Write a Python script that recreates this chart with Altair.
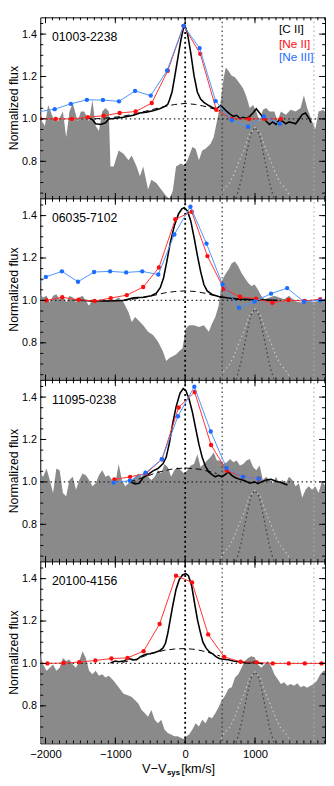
import altair as alt
import pandas as pd

XDOM = [-2075, 2003]
YLO = 0.623          # bottom of every panel
S = 0.856            # flux span of one panel (0.623 .. 1.479)
NP = 4
W = 291
H = 185.5            # pixel height of one panel

names = ["01003-2238", "06035-7102", "11095-0238", "20100-4156"]
legend_labels = ["[C II]", "[Ne II]", "[Ne III]"]

# ---------------- panel 1 : 01003-2238 ----------------
p1_gray_v = [-2094,-2052,-2009,-1963,-1892,-1822,-1751,-1704,-1657,-1610,-1540,-1493,-1446,-1376,-1329,-1282,-1235,-1188,-1141,-1094,-1070,-1024,-953,-883,-812,-765,-695,-648,-601,-531,-484,-413,-343,-272,-225,-178,-131,-61,-14,33,103,150,197,244,291,362,408,455,502,549,582,620,667,714,784,831,878,925,972,1019,1066,1113,1160,1207,1277,1324,1371,1441,1512,1582,1653,1700,1747,1817,1864,1911,1981,2028]
p1_gray_f = [1.051,0.989,0.966,1.066,1.005,0.989,1.035,0.913,1.035,1.074,0.989,1.035,1.035,0.989,1.089,0.966,0.943,1.035,1.051,1.035,0.775,0.775,0.851,0.836,0.805,0.828,0.775,0.729,0.775,0.667,0.713,0.698,0.667,0.636,0.613,0.660,0.775,0.790,0.782,0.805,0.867,0.859,0.805,0.851,0.859,0.882,0.913,0.989,1.066,1.189,1.242,1.227,1.204,1.196,1.166,1.143,1.104,1.051,1.066,1.035,0.989,1.043,1.051,1.035,1.035,0.989,1.035,1.020,1.043,1.035,1.051,1.112,1.051,0.989,0.951,1.035,1.043,1.020]
p1_cii_v = [-1399,-1329,-1282,-1211,-1141,-1094,-1024,-883,-742,-648,-554,-460,-366,-296,-249,-225,-188,-155,-108,-61,-23,0,33,80,127,174,221,268,338,408,455,502,549,596,643,690,737,784,831,878,925,972,1019,1066,1113,1160,1207,1254,1301,1347,1394,1441,1488,1535,1582,1629,1676,1723,1770,1803]
p1_cii_f = [1.008,0.997,0.977,0.974,0.982,1.0,1.002,1.008,1.017,1.028,1.032,1.038,1.048,1.058,1.069,1.089,1.127,1.189,1.281,1.373,1.431,1.437,1.403,1.311,1.204,1.127,1.094,1.078,1.063,1.051,1.048,1.063,1.051,1.035,1.023,1.012,1.017,1.002,1.008,1.002,1.012,1.028,1.048,1.028,1.008,0.989,0.974,0.986,0.974,0.997,0.989,0.977,0.986,0.982,0.977,0.997,1.020,1.028,1.005,0.982]
p1_broad_v = [-1300,-1100,-900,-700,-500,-300,-150,0,150,300,450,500]
p1_broad_f = [1.0,1.005,1.012,1.025,1.042,1.058,1.068,1.073,1.068,1.058,1.043,1.038]
p1_neii_v = [-2080,-1854,-1624,-1394,-1169,-939,-709,-479,-249,-23,216,446,671,915,1141,1371]
p1_neii_f = [1.002,1.0,1.0,1.008,1.015,1.028,1.035,1.075,1.227,1.439,1.307,1.043,1.0,1.0,1.0,1.0]
p1_neiii_v = [-2130,-1869,-1638,-1408,-1178,-948,-718,-493,-258,-23,207,437,667,901,1127,1357]
p1_neiii_f = [1.032,1.046,1.071,1.090,1.089,1.083,1.132,1.110,1.229,1.439,1.334,1.084,0.994,0.963,1.012,0.977]

# ---------------- panel 2 : 06035-7102 ----------------
p2_gray_v = [-2080,-2033,-1986,-1939,-1892,-1845,-1798,-1751,-1704,-1657,-1610,-1563,-1516,-1470,-1423,-1376,-1329,-1282,-1235,-1164,-1094,-1024,-953,-883,-812,-765,-718,-671,-601,-531,-460,-390,-319,-272,-225,-178,-131,-85,-38,-14,9,56,127,197,268,338,385,432,479,526,573,620,667,714,761,808,854,901,948,995,1042,1089,1136,1207,1277,1347,1418,1488,1559,1629,1700,1770,1840,1911,1981,2028]
p2_gray_f = [1.029,1.014,1.022,0.991,1.022,1.029,1.006,1.022,0.991,1.022,1.014,0.991,1.014,1.022,0.998,0.975,1.006,0.998,0.991,1.006,0.998,0.998,1.014,0.991,0.945,0.898,0.922,0.906,0.883,0.852,0.837,0.806,0.760,0.714,0.729,0.737,0.745,0.760,0.775,0.822,0.868,0.883,0.883,0.875,0.883,0.852,0.891,0.922,0.975,1.091,1.122,1.145,1.175,1.183,1.160,1.129,1.106,1.083,1.068,1.075,1.052,1.022,1.006,1.014,1.022,1.014,1.006,1.022,0.998,0.991,0.991,0.998,0.991,0.998,1.006,1.014]
p2_cii_v = [-1587,-1352,-1117,-883,-742,-601,-484,-413,-357,-310,-263,-216,-155,-94,-47,-14,33,80,127,174,221,268,315,385,479,620,761,901,1089,1324]
p2_cii_f = [1.003,0.997,0.997,1.0,1.012,1.015,1.022,1.034,1.060,1.106,1.183,1.268,1.352,1.409,1.432,1.437,1.422,1.375,1.298,1.214,1.137,1.075,1.045,1.028,1.018,1.011,1.006,1.005,1.003,1.0]
p2_broad_v = [-900,-700,-500,-300,-150,0,150,300,450,550]
p2_broad_f = [1.0,1.008,1.020,1.035,1.042,1.045,1.042,1.033,1.020,1.012]
p2_neii_v = [-1986,-1761,-1526,-1296,-1066,-836,-601,-376,-141,94,319,554,784,1014,1249,1479,1709,1934]
p2_neii_f = [1.0,1.015,1.003,0.997,1.011,1.025,1.063,1.155,1.383,1.418,1.209,1.055,1.017,1.008,0.989,1.002,0.997,1.006]
p2_neiii_v = [-2225,-1995,-1765,-1535,-1305,-1075,-845,-615,-385,-155,75,305,535,770,995,1230,1460,1700,1934]
p2_neiii_f = [1.042,1.111,1.137,1.088,1.134,1.137,1.132,1.137,1.122,1.311,1.442,1.268,1.075,0.966,0.995,1.032,1.058,0.994,1.0]

# ---------------- panel 3 : 11095-0238 ----------------
p3_gray_v = [-2080,-2033,-1986,-1939,-1892,-1845,-1798,-1751,-1704,-1657,-1610,-1563,-1516,-1470,-1423,-1376,-1329,-1282,-1235,-1188,-1141,-1094,-1047,-1000,-953,-906,-859,-812,-765,-718,-671,-624,-577,-531,-484,-437,-390,-343,-296,-249,-202,-155,-108,-61,-14,33,80,127,174,221,268,315,362,408,455,502,549,596,643,690,737,784,831,878,925,972,1019,1066,1113,1160,1207,1254,1301,1347,1394,1441,1488,1535,1582,1629,1676,1723,1770,1817,1864,1911,1958,2014]
p3_gray_f = [1.040,1.024,1.063,1.009,0.948,1.063,1.055,0.948,0.933,1.009,1.024,0.963,1.009,1.040,1.032,1.009,0.979,0.994,1.032,1.055,1.024,1.032,1.009,0.994,1.085,1.009,0.979,0.994,1.009,1.024,1.040,1.024,1.055,1.024,1.009,1.024,1.055,1.040,1.085,1.070,1.024,1.055,1.070,1.055,1.040,1.055,1.078,1.085,1.131,1.070,1.085,1.101,1.116,1.139,1.101,1.101,1.085,1.093,1.108,1.093,1.101,1.078,1.085,1.101,1.108,1.070,1.055,1.078,1.009,1.024,1.009,0.994,1.024,0.994,1.009,0.994,1.024,1.009,0.979,0.994,0.925,0.963,0.979,0.963,0.979,0.948,1.002,0.979]
p3_cii_v = [-789,-718,-657,-601,-531,-460,-390,-319,-272,-225,-178,-131,-75,-28,9,56,103,150,197,244,291,338,385,432,479,526,573,620,667,714,784,854,925,995,1042,1089,1160,1230,1300,1371,1465]
p3_cii_f = [1.002,0.991,0.994,1.021,1.035,1.052,1.063,1.085,1.116,1.185,1.276,1.353,1.418,1.440,1.431,1.391,1.330,1.253,1.177,1.116,1.073,1.047,1.034,1.024,1.031,1.024,1.035,1.047,1.031,1.021,1.012,1.006,0.994,1.0,0.992,1.0,1.009,1.012,1.003,0.997,0.986]
p3_broad_v = [-800,-600,-400,-200,0,200,400,450]
p3_broad_f = [1.0,1.020,1.045,1.060,1.066,1.060,1.045,1.040]
p3_neii_v = [-1014,-789,-559,-333,-94,136,371,596,831,1052]
p3_neii_f = [1.012,1.024,1.040,1.107,1.351,1.424,1.174,1.053,1.024,1.015]
p3_neiii_v = [-1024,-793,-568,-333,-103,131,366,592,826,1052]
p3_neiii_f = [0.997,1.006,1.043,1.107,1.310,1.449,1.238,1.066,1.024,1.015]

# ---------------- panel 4 : 20100-4156 ----------------
p4_gray_v = [-2080,-2033,-1986,-1939,-1892,-1845,-1798,-1751,-1704,-1657,-1610,-1563,-1516,-1470,-1423,-1376,-1329,-1282,-1235,-1188,-1141,-1094,-1024,-953,-883,-812,-765,-718,-671,-624,-577,-531,-484,-437,-390,-343,-296,-249,-202,-155,-108,-61,-14,19,56,103,150,197,244,291,338,385,432,479,526,573,620,667,714,761,808,854,901,948,995,1042,1089,1136,1183,1230,1277,1324,1371,1418,1465,1512,1559,1606,1653,1700,1747,1793,1840,1887,1934,1981,2028]
p4_gray_f = [1.042,0.995,0.965,0.980,0.995,0.965,0.980,1.026,1.011,1.018,0.995,0.980,1.011,1.057,1.026,0.965,0.949,0.965,0.942,0.949,0.934,0.942,0.918,0.888,0.857,0.849,0.842,0.826,0.811,0.780,0.765,0.749,0.780,0.734,0.718,0.734,0.688,0.672,0.665,0.657,0.657,0.649,0.642,0.657,0.665,0.688,0.718,0.703,0.734,0.718,0.749,0.742,0.765,0.795,0.826,0.849,0.880,0.888,0.934,0.949,0.980,1.011,1.026,1.034,1.029,0.995,0.980,0.995,1.011,0.988,0.949,0.926,0.903,0.911,0.895,0.903,0.895,0.906,0.888,0.895,0.885,0.895,0.903,0.918,0.949,0.965,0.965]
p4_cii_v = [-1070,-1000,-953,-883,-812,-751,-695,-639,-577,-507,-437,-366,-319,-282,-249,-216,-178,-131,-85,-38,9,47,94,141,178,216,254,300,347,394,441,488,549,620,690,761,831,901,972,1019,1066,1113]
p4_cii_f = [1.002,1.011,1.008,1.011,1.023,1.018,1.017,1.032,1.042,1.046,1.052,1.060,1.072,1.095,1.142,1.203,1.272,1.349,1.395,1.417,1.423,1.414,1.365,1.272,1.203,1.149,1.100,1.072,1.054,1.045,1.032,1.023,1.020,1.017,1.011,1.008,1.005,1.002,1.005,1.008,1.002,0.997]
p4_broad_v = [-900,-700,-500,-300,-150,0,150,300,450,500]
p4_broad_f = [1.005,1.020,1.045,1.062,1.068,1.070,1.066,1.055,1.040,1.035]
p4_neii_v = [-2202,-1972,-1742,-1517,-1286,-1056,-826,-596,-366,-131,99,329,559,793,1024,1254,1484,1714,1953]
p4_neii_f = [1.0,1.0,1.002,1.006,1.014,1.023,1.026,1.058,1.186,1.414,1.382,1.137,1.031,1.008,1.005,1.0,1.0,1.0,1.0]
p4_neiii_v = []
p4_neiii_f = []

# ---------------- shared model profiles (dotted), same in every panel ----------------
narrow_v = [730,760,800,850,890,940,1000,1060,1110,1150,1200,1240,1270]
narrow_f = [0.627,0.66,0.71,0.79,0.855,0.93,0.96,0.93,0.855,0.79,0.71,0.66,0.627]
wide_v = [484,560,640,700,760,845,920,1000,1080,1155,1240,1300,1360,1440,1516]
wide_f = [0.627,0.67,0.70,0.74,0.79,0.857,0.93,0.96,0.93,0.857,0.79,0.74,0.70,0.67,0.627]

vlines_dark = [0]
vlines_mid = [530]
vlines_light = [1845]
hline = [1.0]

x_major = [-2000, -1000, 0, 1000]
x_minor = list(range(-2000, 2001, 100))
y_major = [0.8, 1.0, 1.2, 1.4]
y_minor = [round(0.65 + 0.05 * i, 2) for i in range(17)]

panels = [
    (p1_gray_v, p1_gray_f, p1_cii_v, p1_cii_f, p1_broad_v, p1_broad_f, p1_neii_v, p1_neii_f, p1_neiii_v, p1_neiii_f),
    (p2_gray_v, p2_gray_f, p2_cii_v, p2_cii_f, p2_broad_v, p2_broad_f, p2_neii_v, p2_neii_f, p2_neiii_v, p2_neiii_f),
    (p3_gray_v, p3_gray_f, p3_cii_v, p3_cii_f, p3_broad_v, p3_broad_f, p3_neii_v, p3_neii_f, p3_neiii_v, p3_neiii_f),
    (p4_gray_v, p4_gray_f, p4_cii_v, p4_cii_f, p4_broad_v, p4_broad_f, p4_neii_v, p4_neii_f, p4_neiii_v, p4_neiii_f),
]

RED_LINE = "#ff3030"
RED_DOT = "#ff0d0d"
BLUE_LINE = "#4a94ff"
BLUE_DOT = "#1c6cff"
GRAY = "#8a8a8a"


def off(k):
    # panels are stacked on one flux axis: panel k sits k spans below the top one
    return (NP - 1 - k) * S


ylabel_vals = [round(v + off(k), 4) for k in range(NP) for v in y_major]
yminor_vals = [round(v + off(k), 4) for k in range(NP) for v in y_minor]
ymajor_vals = ylabel_vals

XAX = alt.Axis(values=x_major, format="d", ticks=False, tickSize=0, domain=False, grid=False,
               labelFontSize=11.5, labelPadding=5, labelColor="black", title=None)
YAX = alt.Axis(values=ylabel_vals, ticks=False, tickSize=0, domain=False, grid=False,
               labelExpr=f"format(datum.value - floor((datum.value - {YLO}) / {S}) * {S}, '.1f')",
               labelFontSize=11, labelPadding=4, labelColor="black", title=None)


def X(field):
    return alt.X(f"{field}:Q", scale=alt.Scale(domain=XDOM, nice=False, zero=False), axis=XAX)


def Y(field):
    return alt.Y(f"{field}:Q", scale=alt.Scale(domain=[YLO, YLO + NP * S], nice=False, zero=False), axis=YAX)


def tab(v, f, k, floor_at_bottom=False):
    o = off(k)
    yy = [(max(x, YLO) if floor_at_bottom else x) + o for x in f]
    return pd.DataFrame({"v": v, "f": f, "yy": yy, "yb": [YLO + o] * len(v)})


layers = []
for k in range(NP):
    gv, gf, cv, cf, bv, bf, nv, nf, n3v, n3f = panels[k]
    layers.append(alt.Chart(tab(gv, gf, k, True)).mark_area(color=GRAY, clip=True, interpolate="linear")
                  .encode(x=X("v"), y=Y("yy"), y2="yb:Q"))
    layers.append(alt.Chart(tab(wide_v, wide_f, k)).mark_line(color="#c8c8c8", strokeDash=[1.5, 3], strokeWidth=1.2, clip=True)
                  .encode(x=X("v"), y=Y("yy")))
    layers.append(alt.Chart(tab(narrow_v, narrow_f, k)).mark_line(color="#3a3a3a", strokeDash=[1.5, 3], strokeWidth=1.2, clip=True)
                  .encode(x=X("v"), y=Y("yy")))

layers.append(alt.Chart(pd.DataFrame({"x": vlines_light})).mark_rule(color="#b0b0b0", strokeDash=[1.5, 3], strokeWidth=1.2)
              .encode(x=X("x")))
layers.append(alt.Chart(pd.DataFrame({"x": vlines_mid})).mark_rule(color="#333333", strokeDash=[1.5, 3], strokeWidth=1.2)
              .encode(x=X("x")))
layers.append(alt.Chart(pd.DataFrame({"x": vlines_dark})).mark_rule(color="black", strokeDash=[2, 3], strokeWidth=1.8)
              .encode(x=X("x")))
layers.append(alt.Chart(pd.DataFrame({"y": [h + off(k) for k in range(NP) for h in hline]}))
              .mark_rule(color="#222222", strokeDash=[1.5, 3], strokeWidth=1.2).encode(y=Y("y")))

for k in range(NP):
    gv, gf, cv, cf, bv, bf, nv, nf, n3v, n3f = panels[k]
    layers.append(alt.Chart(tab(bv, bf, k)).mark_line(color="black", strokeDash=[6, 4], strokeWidth=1, clip=True)
                  .encode(x=X("v"), y=Y("yy")))
    layers.append(alt.Chart(tab(cv, cf, k)).mark_line(color="black", strokeWidth=1.6, clip=True)
                  .encode(x=X("v"), y=Y("yy")))
    layers.append(alt.Chart(tab(nv, nf, k)).mark_line(color=RED_LINE, strokeWidth=1, clip=True)
                  .encode(x=X("v"), y=Y("yy")))
    layers.append(alt.Chart(tab(nv, nf, k)).mark_circle(color=RED_DOT, size=20, opacity=1, clip=True)
                  .encode(x=X("v"), y=Y("yy")))
    if len(n3v) > 0:
        layers.append(alt.Chart(tab(n3v, n3f, k)).mark_line(color=BLUE_LINE, strokeWidth=1, clip=True)
                      .encode(x=X("v"), y=Y("yy")))
        layers.append(alt.Chart(tab(n3v, n3f, k)).mark_circle(color=BLUE_DOT, size=20, opacity=1, clip=True)
                      .encode(x=X("v"), y=Y("yy")))

# panel separators
layers.append(alt.Chart(pd.DataFrame({"y": [YLO + off(k) for k in range(NP - 1)]}))
              .mark_rule(color="black", strokeWidth=1).encode(y=Y("y")))

# inward ticks: along every panel edge (x) and on left/right sides (y)
xmaj = pd.DataFrame({"t": x_major})
xmin = pd.DataFrame({"t": x_minor})
for d, ln in ((xmaj, 6), (xmin, 3)):
    for b in range(NP + 1):
        up = 0 if b == 0 else ln
        dn = 0 if b == NP else ln
        layers.append(alt.Chart(d).mark_rule(color="black", strokeWidth=1)
                      .encode(x=X("t"), y=alt.value(b * H - up), y2=alt.value(b * H + dn)))
for vals, ln in ((ymajor_vals, 6), (yminor_vals, 3)):
    d = pd.DataFrame({"t": vals})
    layers.append(alt.Chart(d).mark_rule(color="black", strokeWidth=1)
                  .encode(y=Y("t"), x=alt.value(0), x2=alt.value(ln)))
    layers.append(alt.Chart(d).mark_rule(color="black", strokeWidth=1)
                  .encode(y=Y("t"), x=alt.value(W), x2=alt.value(W - ln)))

# texts
for k in range(NP):
    layers.append(alt.Chart(pd.DataFrame({"name": [names[k]]}))
                  .mark_text(align="left", baseline="middle", fontSize=12.5, color="black")
                  .encode(x=alt.value(12), y=alt.value(k * H + 20), text="name:N"))
    layers.append(alt.Chart(pd.DataFrame({"t": ["Normalized flux"]}))
                  .mark_text(align="center", baseline="middle", angle=270, fontSize=12.5, color="black")
                  .encode(x=alt.value(-27), y=alt.value(k * H + H / 2), text="t:N"))

for lab, c, yy in zip(legend_labels, ["black", RED_DOT, BLUE_DOT], [12, 27.5, 40.5]):
    layers.append(alt.Chart(pd.DataFrame({"lab": [lab]}))
                  .mark_text(align="left", baseline="middle", fontSize=12, color=c)
                  .encode(x=alt.value(244), y=alt.value(yy), text="lab:N"))

tl = pd.DataFrame({"a": ["V\u2212V"], "b": ["sys"], "c": ["[km/s]"]})
layers.append(alt.Chart(tl).mark_text(align="right", baseline="middle", fontSize=13, color="black")
              .encode(x=alt.value(129), y=alt.value(NP * H + 26), text="a:N"))
layers.append(alt.Chart(tl).mark_text(align="left", baseline="middle", fontSize=8, fontWeight="bold", color="black")
              .encode(x=alt.value(129.5), y=alt.value(NP * H + 30), text="b:N"))
layers.append(alt.Chart(tl).mark_text(align="left", baseline="middle", fontSize=13, color="black")
              .encode(x=alt.value(144), y=alt.value(NP * H + 26), text="c:N"))

chart = alt.layer(*layers).properties(
    width=W, height=NP * H, padding={"left": 0, "top": 0, "right": 0, "bottom": 0}
).configure(font="Liberation Sans").configure_view(stroke="black", strokeWidth=1)

chart.save("out.html", embed_options={"renderer": "svg", "actions": False})
